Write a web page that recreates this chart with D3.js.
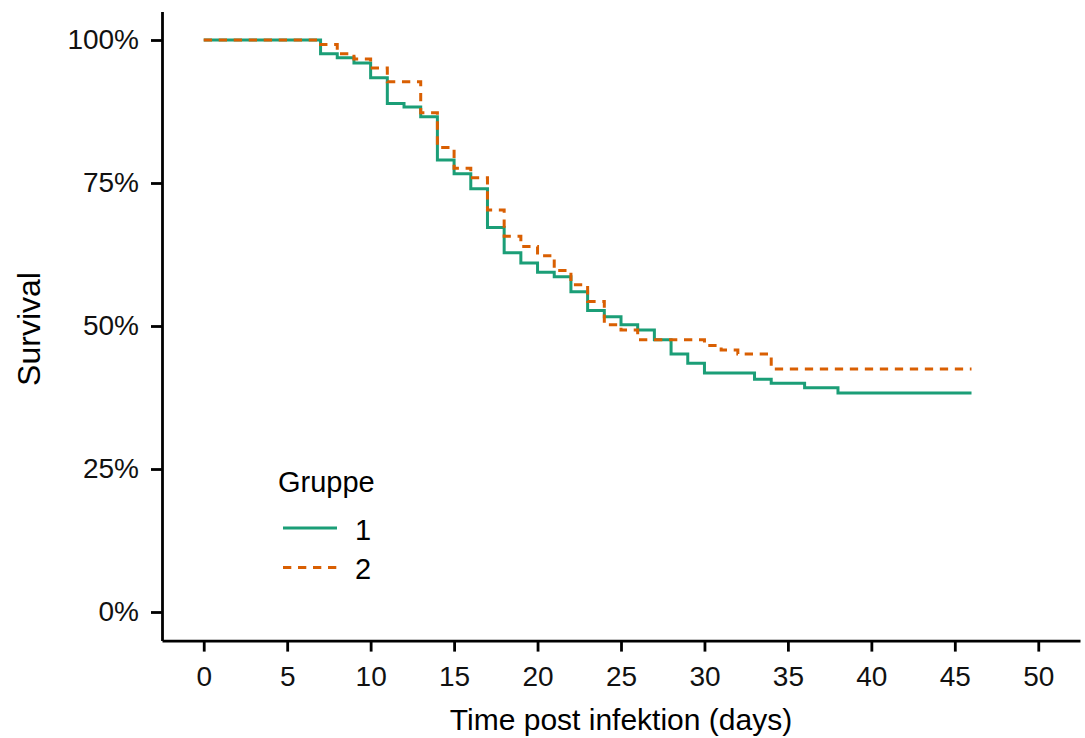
<!DOCTYPE html>
<html>
<head>
<meta charset="utf-8">
<script src="https://cdn.jsdelivr.net/npm/d3@7"></script>
<style>
  html, body { margin: 0; padding: 0; background: #fff; }
  svg { display: block; font-family: "Liberation Sans", Arial, sans-serif; }
</style>
</head>
<body>
<svg id="chart" width="1085" height="738"></svg>
<script>
// Kaplan–Meier estimates per group: event day and survival after the step
const group1Days = [0, 7, 8, 9, 10, 11, 12, 13, 14, 15, 16, 17, 18, 19, 20, 21, 22, 23, 24, 25, 26, 27, 28, 29, 30, 33, 34, 36, 38, 46];
const group1Surv = [1.0, 0.976, 0.969, 0.960, 0.934, 0.889, 0.883, 0.866, 0.790, 0.766, 0.740, 0.672, 0.628, 0.610, 0.594, 0.586, 0.560, 0.527, 0.516, 0.502, 0.493, 0.476, 0.451, 0.435, 0.418, 0.407, 0.400, 0.392, 0.383, 0.383];

const group2Days = [0, 7, 8, 9, 10, 11, 13, 14, 15, 16, 17, 18, 19, 20, 21, 22, 23, 24, 25, 26, 30, 31, 32, 34, 46];
const group2Surv = [1.0, 0.992, 0.976, 0.967, 0.951, 0.927, 0.873, 0.812, 0.776, 0.759, 0.703, 0.657, 0.639, 0.623, 0.597, 0.572, 0.543, 0.502, 0.493, 0.476, 0.466, 0.458, 0.451, 0.425, 0.425];

const xTicks = [0, 5, 10, 15, 20, 25, 30, 35, 40, 45, 50];
const yTicks = [0, 0.25, 0.5, 0.75, 1];
const groupNames = ["1", "2"];
const groupColors = ["#1b9e77", "#d95f02"];

const svg = d3.select("#chart");
const panel = { left: 162, right: 1080, top: 11.4, bottom: 640.6 };

const x = d3.scaleLinear().domain([-2.5, 52.5]).range([panel.left, panel.right]);
const y = d3.scaleLinear().domain([-0.05, 1.05]).range([panel.bottom, panel.top]);

// axes
const xAxis = svg.append("g")
  .attr("transform", `translate(0,${panel.bottom})`)
  .call(d3.axisBottom(x).tickValues(xTicks).tickSize(11).tickSizeOuter(0).tickPadding(15));
const yAxis = svg.append("g")
  .attr("transform", `translate(${panel.left},0)`)
  .call(d3.axisLeft(y).tickValues(yTicks).tickFormat(d3.format(".0%")).tickSize(11).tickSizeOuter(0).tickPadding(12));

[xAxis, yAxis].forEach(g => {
  g.select(".domain").attr("stroke", "#000").attr("stroke-width", 2.8);
  g.selectAll(".tick line").attr("stroke", "#000").attr("stroke-width", 2.8);
  g.selectAll(".tick text").attr("fill", "#111").attr("font-size", 28)
    .attr("font-family", "'Liberation Sans', Arial, sans-serif");
});
xAxis.selectAll(".tick text").attr("dy", "0.71em");

// axis titles
svg.append("text")
  .attr("x", (panel.left + panel.right) / 2).attr("y", 730)
  .attr("text-anchor", "middle").attr("font-size", 30).attr("fill", "#000")
  .text("Time post infektion (days)");
svg.append("text")
  .attr("transform", `translate(40,329) rotate(-90)`)
  .attr("text-anchor", "middle").attr("font-size", 32).attr("fill", "#000")
  .text("Survival");

// survival curves
const stepLine = d3.line()
  .x(d => x(d[0]))
  .y(d => y(d[1]))
  .curve(d3.curveStepAfter);

const series = [
  { days: group1Days, surv: group1Surv, color: groupColors[0], dash: null },
  { days: group2Days, surv: group2Surv, color: groupColors[1], dash: "8.3,6.7" }
];

series.forEach(s => {
  svg.append("path")
    .datum(s.days.map((d, i) => [d, s.surv[i]]))
    .attr("fill", "none")
    .attr("stroke", s.color)
    .attr("stroke-width", 3)
    .attr("stroke-dasharray", s.dash)
    .attr("d", stepLine);
});

// legend
const legend = svg.append("g");
legend.append("text")
  .attr("x", 278).attr("y", 492)
  .attr("font-size", 29).attr("fill", "#000")
  .text("Gruppe");
series.forEach((s, i) => {
  const ly = 528 + i * 39.5;
  legend.append("line")
    .attr("x1", 283).attr("x2", 337).attr("y1", ly).attr("y2", ly)
    .attr("stroke", s.color).attr("stroke-width", 3)
    .attr("stroke-dasharray", s.dash);
  legend.append("text")
    .attr("x", 355).attr("y", ly + 1.5).attr("dy", "0.36em")
    .attr("font-size", 29).attr("fill", "#000")
    .text(groupNames[i]);
});
</script>
</body>
</html>
